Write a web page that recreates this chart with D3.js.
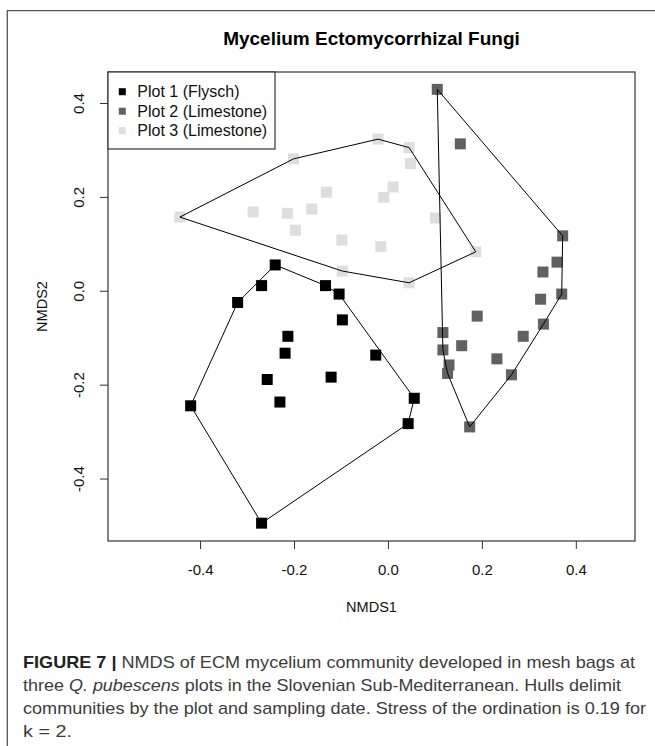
<!DOCTYPE html>
<html>
<head>
<meta charset="utf-8">
<script src="https://cdn.jsdelivr.net/npm/d3@7"></script>
<style>
	body { margin: 0; background: #fff; }
	svg { display: block; }
	text { font-family: "Liberation Sans", Arial, Helvetica, sans-serif; }
</style>
</head>
<body>
<svg id="chart" width="655" height="746"></svg>
<script>
// NMDS scores
var plotNames = ["Plot 1 (Flysch)", "Plot 2 (Limestone)", "Plot 3 (Limestone)"];
var plotColors = ["#000000", "#616161", "#dedede"];

var plot1X = [-0.240, -0.269, -0.320, -0.133, -0.104, -0.097, -0.213, -0.219, -0.026, -0.257, -0.121, -0.230, 0.056, 0.043, -0.420, -0.269];
var plot1Y = [0.055, 0.011, -0.025, 0.011, -0.007, -0.062, -0.097, -0.133, -0.137, -0.189, -0.184, -0.237, -0.229, -0.283, -0.245, -0.495];

var plot2X = [0.105, 0.154, 0.372, 0.360, 0.330, 0.370, 0.325, 0.190, 0.331, 0.117, 0.288, 0.157, 0.117, 0.232, 0.130, 0.127, 0.263, 0.174];
var plot2Y = [0.429, 0.313, 0.117, 0.061, 0.040, -0.007, -0.018, -0.054, -0.071, -0.089, -0.097, -0.117, -0.126, -0.145, -0.158, -0.176, -0.179, -0.290];

var plot3X = [-0.443, -0.201, -0.287, -0.214, -0.162, -0.131, -0.197, -0.098, -0.097, -0.021, 0.045, 0.048, 0.011, -0.009, 0.101, -0.015, 0.187, 0.045];
var plot3Y = [0.157, 0.281, 0.168, 0.165, 0.174, 0.210, 0.129, 0.108, 0.042, 0.323, 0.305, 0.271, 0.221, 0.199, 0.155, 0.094, 0.083, 0.017];

var xTicks = [-0.4, -0.2, 0.0, 0.2, 0.4];
var yTicks = [-0.4, -0.2, 0.0, 0.2, 0.4];

var titleText = "Mycelium Ectomycorrhizal Fungi";
var xTitle = "NMDS1",
	yTitle = "NMDS2";

var captionBold = "FIGURE 7 |";
var captionLines = [
	" NMDS of ECM mycelium community developed in mesh bags at",
	"three Q. pubescens plots in the Slovenian Sub-Mediterranean. Hulls delimit",
	"communities by the plot and sampling date. Stress of the ordination is 0.19 for",
	"k = 2."
];

var plots = [
	{x: plot1X, y: plot1Y},
	{x: plot2X, y: plot2Y},
	{x: plot3X, y: plot3Y}
];

var box = {left: 108, right: 635, top: 72, bottom: 541},
	pointSize = 11;

var x = d3.scaleLinear().domain([-0.596, 0.526]).range([box.left, box.right]),
	y = d3.scaleLinear().domain([-0.533, 0.466]).range([box.bottom, box.top]);

var svg = d3.select("#chart");

// outer figure frame (left and top edges only are visible)
svg.append("path")
	.attr("d", "M7.3,746V10.7H655")
	.attr("fill", "none")
	.attr("stroke", "#555")
	.attr("stroke-width", 1.3);

svg.append("text")
	.attr("x", (box.left + box.right) / 2)
	.attr("y", 45)
	.attr("text-anchor", "middle")
	.attr("font-weight", "bold")
	.attr("font-size", "19px")
	.attr("fill", "#000")
	.text(titleText);

// axes
var xAxis = svg.append("g")
	.attr("transform", "translate(0," + box.bottom + ")")
	.call(d3.axisBottom(x).tickValues(xTicks).tickSize(8).tickPadding(15).tickFormat(d3.format(".1f")));

var yAxis = svg.append("g")
	.attr("transform", "translate(" + box.left + ",0)")
	.call(d3.axisLeft(y).tickValues(yTicks).tickSize(8).tickFormat(d3.format(".1f")));

[xAxis, yAxis].forEach(function(g) {
	g.select(".domain").remove();
	g.selectAll(".tick line").attr("stroke", "#333");
	g.selectAll(".tick text")
		.attr("font-size", "15px")
		.attr("font-family", "'Liberation Sans', Arial, sans-serif")
		.attr("fill", "#111")
		.text(function(d) { return d3.format(".1f")(d).replace("\u2212", "-"); });
});

yAxis.selectAll(".tick text")
	.attr("transform", "rotate(-90)")
	.attr("x", 0)
	.attr("y", -24)
	.attr("dy", 0)
	.attr("text-anchor", "middle");

svg.append("text")
	.attr("x", (box.left + box.right) / 2)
	.attr("y", 612)
	.attr("text-anchor", "middle")
	.attr("font-size", "14.5px")
	.attr("fill", "#111")
	.text(xTitle);

svg.append("text")
	.attr("transform", "translate(47," + (box.top + box.bottom) / 2 + ") rotate(-90)")
	.attr("text-anchor", "middle")
	.attr("font-size", "14.5px")
	.attr("fill", "#111")
	.text(yTitle);

// points
var markers = svg.append("g");
plots.forEach(function(p, i) {
	markers.append("g")
		.selectAll("rect")
		.data(d3.range(p.x.length))
		.enter()
		.append("rect")
		.attr("x", function(j) { return x(p.x[j]) - pointSize / 2; })
		.attr("y", function(j) { return y(p.y[j]) - pointSize / 2; })
		.attr("width", pointSize)
		.attr("height", pointSize)
		.attr("fill", plotColors[i]);
});

// convex hulls drawn over the points
var hulls = svg.append("g");
plots.forEach(function(p) {
	var pts = d3.range(p.x.length).map(function(j) { return [x(p.x[j]), y(p.y[j])]; });
	var hull = d3.polygonHull(pts);
	hulls.append("path")
		.attr("d", "M" + hull.join("L") + "Z")
		.attr("fill", "none")
		.attr("stroke", "#000")
		.attr("stroke-width", 1)
		.attr("stroke-linejoin", "round");
});

// plot box
svg.append("rect")
	.attr("x", box.left)
	.attr("y", box.top)
	.attr("width", box.right - box.left)
	.attr("height", box.bottom - box.top)
	.attr("fill", "none")
	.attr("stroke", "#333")
	.attr("stroke-width", 1.2);

// legend
var legend = svg.append("g");
legend.append("rect")
	.attr("x", box.left)
	.attr("y", box.top)
	.attr("width", 167)
	.attr("height", 77)
	.attr("fill", "#fff")
	.attr("stroke", "#333")
	.attr("stroke-width", 1.2);

var entries = legend.selectAll("g.entry")
	.data(plotNames)
	.enter()
	.append("g")
	.attr("class", "entry")
	.attr("transform", function(d, i) { return "translate(0," + (91.7 + i * 19.5) + ")"; });

entries.append("rect")
	.attr("x", 122.3 - 3.5)
	.attr("y", -3.5)
	.attr("width", 7)
	.attr("height", 7)
	.attr("fill", function(d, i) { return plotColors[i]; });

entries.append("text")
	.attr("x", 137.3)
	.attr("y", 5.5)
	.attr("font-size", "16px")
	.attr("fill", "#111")
	.text(function(d) { return d; });

// caption
var caption = svg.append("g")
	.attr("font-size", "17px")
	.attr("fill", "#3c3c3c");

var line1 = caption.append("text")
	.attr("x", 23)
	.attr("y", 668)
	.attr("textLength", 612)
	.attr("lengthAdjust", "spacingAndGlyphs");
line1.append("tspan").attr("font-weight", "bold").attr("fill", "#222").text(captionBold);
line1.append("tspan").text(captionLines[0]);

var line2 = caption.append("text")
	.attr("x", 23)
	.attr("y", 691)
	.attr("textLength", 598)
	.attr("lengthAdjust", "spacingAndGlyphs");
line2.append("tspan").text("three ");
line2.append("tspan").attr("font-style", "italic").text("Q. pubescens");
line2.append("tspan").text(" plots in the Slovenian Sub-Mediterranean. Hulls delimit");

caption.append("text")
	.attr("x", 23)
	.attr("y", 714)
	.attr("textLength", 623)
	.attr("lengthAdjust", "spacingAndGlyphs")
	.text(captionLines[2]);

caption.append("text")
	.attr("x", 23)
	.attr("y", 736.5)
	.attr("textLength", 49)
	.attr("lengthAdjust", "spacingAndGlyphs")
	.text(captionLines[3]);
</script>
</body>
</html>
